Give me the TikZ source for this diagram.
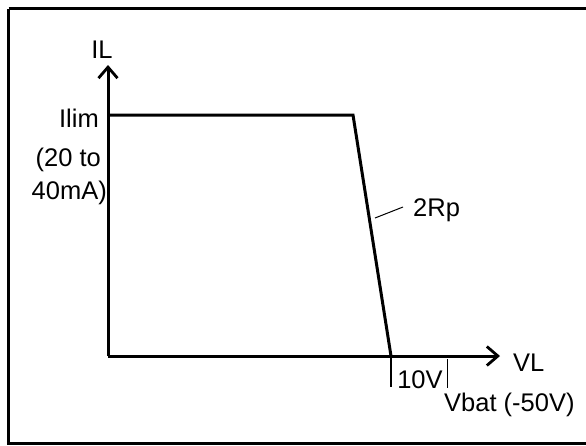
\documentclass[tikz,border=0pt]{standalone}
\usepackage{fontspec}
\setmainfont{Liberation Sans}
\usetikzlibrary{arrows.meta}
\begin{document}
\begin{tikzpicture}[x=1pt,y=-1pt,
  lbl/.style={inner sep=0pt,font=\fontsize{25.5}{27}\selectfont},
  axis/.style={line width=3pt,-{Straight Barb[length=11pt,width=19pt,line width=2.8pt]}},
  curve/.style={line width=3pt,line join=miter},
  tick/.style={line width=1.4pt}]
\useasboundingbox (0,0) rectangle (586,445);
\draw[line width=3pt] (8.5,8.5) -- (600,8.5) (8.5,8.5) -- (8.5,443.5) -- (600,443.5);
\coordinate (O) at (108,356);
\coordinate (Ytip) at (108,65);
\coordinate (Xtip) at (500,356);
\coordinate (A) at (108,115);
\coordinate (B) at (353,115);
\coordinate (C) at (391,356);
\draw[axis] (O) -- (Ytip);
\draw[axis] (O) -- (Xtip);
\draw[curve] (A) -- (B) -- (C);
\coordinate (t1b) at (391,387);
\draw[tick] (C) -- (t1b);
\coordinate (t2a) at (447,359);
\coordinate (t2b) at (447,388);
\draw[line width=0.9pt] (t2a) -- (t2b);
\coordinate (r1) at (375,218);
\coordinate (r2) at (403,207);
\draw[line width=1pt] (r1) -- (r2);
\node[lbl] (IL) at (102,50) {IL};
\node[lbl,anchor=east] (ilim) at (99,118) {Ilim};
\node[lbl,anchor=east] (l20) at (101,160) {(20 to};
\node[lbl,anchor=east] (l40) at (107,193) {40mA)};
\node[lbl,anchor=west] (rp) at (413,210) {2Rp};
\node[lbl] (v10) at (420,380) {10V};
\node[lbl,anchor=west] (VL) at (513,363) {VL};
\node[lbl,anchor=west] (vbat) at (444,405) {Vbat (-50V)};
\end{tikzpicture}
\end{document}
